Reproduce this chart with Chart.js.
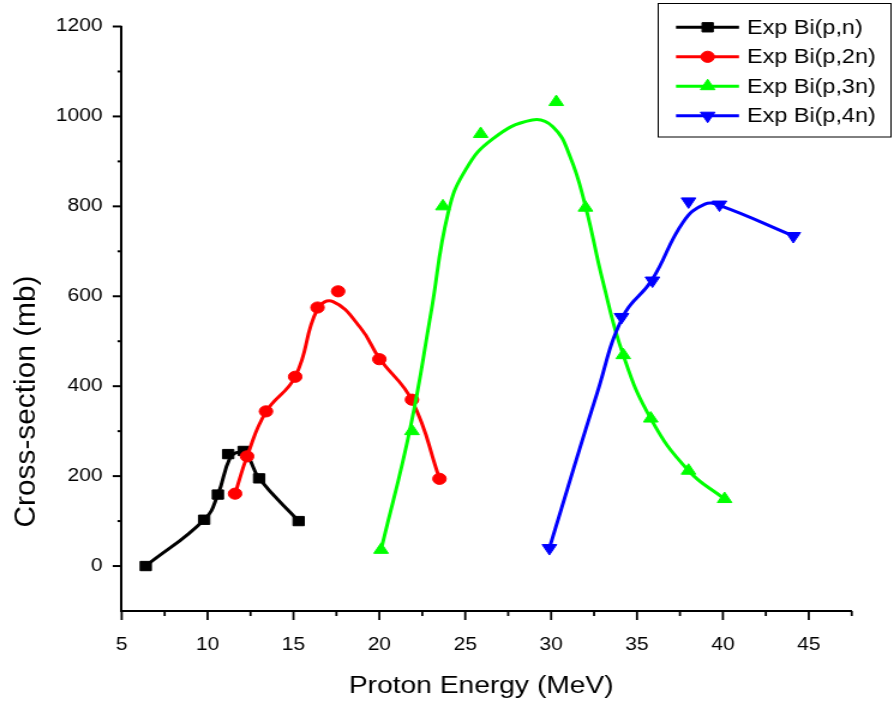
<!DOCTYPE html>
<html>
<head>
<meta charset="utf-8">
<script src="https://cdn.jsdelivr.net/npm/chart.js@4.4.1/dist/chart.umd.min.js"></script>
<style>
  html, body { margin: 0; padding: 0; background: #fff; overflow: hidden; }
  /* the reference is stretched horizontally, so draw narrow and widen */
  #wrap { width: 744px; height: 702px; transform: scaleX(1.2); transform-origin: 0 0; }
</style>
</head>
<body>
<div id="wrap"><canvas id="chart"></canvas></div>
<script>
// ---- data ----
const seriesLabels = ['Exp Bi(p,n)', 'Exp Bi(p,2n)', 'Exp Bi(p,3n)', 'Exp Bi(p,4n)'];

// measured points (markers)
const energyN  = [6.4, 9.8, 10.6, 11.2, 12.1, 13.0, 15.3];
const sigmaN   = [0, 103, 159, 249, 256, 195, 100];
const energy2N = [11.6, 12.3, 13.4, 15.1, 16.4, 17.6, 20.0, 21.9, 23.5];
const sigma2N  = [161, 244, 344, 421, 575, 611, 460, 370, 194];
const energy3N = [20.1, 21.9, 23.7, 25.9, 30.3, 32.0, 34.2, 35.8, 38.0, 40.1];
const sigma3N  = [36, 300, 800, 961, 1032, 797, 469, 328, 212, 149];
const energy4N = [29.9, 34.1, 35.9, 38.0, 39.8, 44.1];
const sigma4N  = [40, 554, 635, 811, 804, 734];

// smoothed curves
const fitEnergyN  = [6.4, 9.8, 10.6, 11.3, 11.8, 12.3, 13.0, 15.3];
const fitSigmaN   = [0, 103, 159, 240, 253, 246, 195, 100];
const fitEnergy2N = [11.6, 12.3, 13.4, 15.1, 16.4, 17.3, 18.9, 20.0, 21.9, 23.5];
const fitSigma2N  = [161, 244, 343, 421, 572, 588, 530, 462, 368, 195];
const fitEnergy3N = [20.1, 21.8, 23.0, 24.0, 25.0, 26.6, 28.9, 30.1, 31.1, 32.0, 33.0, 34.2, 35.8, 38.0, 40.1];
const fitSigma3N  = [36, 307, 562, 785, 880, 950, 992, 977, 911, 800, 635, 469, 328, 212, 149];
const fitEnergy4N = [29.9, 32.65, 34.2, 35.85, 37.7, 38.95, 39.8, 44.1];
const fitSigma4N  = [40, 381, 556, 635, 766, 805, 802, 734];

const xTickValues = [5, 10, 15, 20, 25, 30, 35, 40, 45];
const yTickValues = [0, 200, 400, 600, 800, 1000, 1200];
const xTitle = 'Proton Energy (MeV)';
const yTitle = 'Cross-section (mb)';

// ---- styles ----
const FONT = '"Liberation Sans", Arial, sans-serif';
const styles = [
    { color: '#000000', pointStyle: 'rect',     radius: 6.6, rotation: 0 },
    { color: '#ff0000', pointStyle: 'circle',   radius: 5.6, rotation: 0 },
    { color: '#00ff00', pointStyle: 'triangle', radius: 7,   rotation: 0 },
    { color: '#0000ff', pointStyle: 'triangle', radius: 7,   rotation: 180 }
];
const marks = [[energyN, sigmaN], [energy2N, sigma2N], [energy3N, sigma3N], [energy4N, sigma4N]];
const fits = [[fitEnergyN, fitSigmaN], [fitEnergy2N, fitSigma2N], [fitEnergy3N, fitSigma3N], [fitEnergy4N, fitSigma4N]];

const toPoints = (xs, ys) => xs.map((x, i) => ({ x: x, y: ys[i] }));

const datasets = [];
seriesLabels.forEach((label, i) => {
    const s = styles[i];
    datasets.push({
        label: label,
        data: toPoints(marks[i][0], marks[i][1]),
        showLine: false,
        pointStyle: s.pointStyle,
        pointRadius: s.radius,
        pointRotation: s.rotation,
        pointBackgroundColor: s.color,
        pointBorderColor: s.color,
        pointBorderWidth: 1,
        order: 2 * (3 - i)
    });
    datasets.push({
        label: label + ' fit',
        data: toPoints(fits[i][0], fits[i][1]),
        showLine: true,
        borderColor: s.color,
        borderWidth: 3,
        pointRadius: 0,
        pointHitRadius: 0,
        tension: 0.45,
        order: 2 * (3 - i) + 1
    });
});

// ---- ticks, axis titles and legend box ----
const overlay = {
    id: 'overlay',
    afterDraw(chart) {
        const { ctx, scales: { x, y } } = chart;
        ctx.save();
        ctx.strokeStyle = '#000';
        ctx.fillStyle = '#000';

        // x ticks, major + minor
        ctx.lineWidth = 1.8;
        for (let v = x.min; v <= x.max + 1e-9; v += 2.5) {
            const px = x.getPixelForValue(v);
            const len = v % 5 === 0 ? 9 : 5;
            ctx.beginPath(); ctx.moveTo(px, y.bottom); ctx.lineTo(px, y.bottom + len); ctx.stroke();
        }
        // y ticks, major + minor
        ctx.lineWidth = 2;
        for (let v = 0; v <= y.max; v += 100) {
            const py = y.getPixelForValue(v);
            const len = v % 200 === 0 ? 7.5 : 3.5;
            ctx.beginPath(); ctx.moveTo(x.left, py); ctx.lineTo(x.left - len, py); ctx.stroke();
        }

        // axis titles
        ctx.textAlign = 'center';
        ctx.textBaseline = 'alphabetic';
        ctx.font = '23.5px ' + FONT;
        ctx.fillText(xTitle, 401, 693);
        ctx.save();
        ctx.translate(29.2, 401.5);
        ctx.rotate(-Math.PI / 2);
        ctx.scale(1.28, 1);
        ctx.font = '23.3px ' + FONT;
        ctx.fillText(yTitle, 0, 0);
        ctx.restore();

        // legend
        ctx.lineWidth = 1;
        ctx.strokeRect(548.5, 3.5, 194, 133.5);
        const rows = [27.3, 56.8, 86.2, 115.7];
        ctx.font = '19.5px ' + FONT;
        ctx.textAlign = 'left';
        ctx.textBaseline = 'middle';
        seriesLabels.forEach((label, i) => {
            const s = styles[i];
            const ry = rows[i];
            ctx.strokeStyle = s.color;
            ctx.fillStyle = s.color;
            ctx.lineWidth = 3;
            ctx.beginPath(); ctx.moveTo(563.3, ry); ctx.lineTo(615.8, ry); ctx.stroke();
            ctx.lineWidth = 1;
            Chart.helpers.drawPoint(ctx, { pointStyle: s.pointStyle, rotation: s.rotation, radius: s.radius, borderWidth: 1 }, 589.7, ry);
            ctx.fillStyle = '#000';
            ctx.fillText(label, 622.5, ry + 1);
        });
        ctx.restore();
    }
};

Chart.defaults.font.family = FONT;
Chart.defaults.color = '#000';

new Chart(document.getElementById('chart').getContext('2d'), {
    type: 'scatter',
    data: { datasets: datasets },
    options: {
        responsive: true,
        maintainAspectRatio: false,
        animation: false,
        layout: { padding: { top: 22.3, right: 34.25, left: 0, bottom: 0 } },
        plugins: { legend: { display: false }, tooltip: { enabled: false } },
        scales: {
            x: {
                type: 'linear', min: 5, max: 47.5,
                afterBuildTicks: (axis) => { axis.ticks = xTickValues.map(v => ({ value: v })); },
                afterFit: (axis) => { axis.height = 91; },
                grid: { display: false, drawTicks: false },
                border: { display: true, color: '#000', width: 2 },
                ticks: { padding: 24, autoSkip: false, maxRotation: 0, font: { size: 17.5 }, callback: (v) => String(v) }
            },
            y: {
                type: 'linear', min: -100, max: 1200,
                afterBuildTicks: (axis) => { axis.ticks = yTickValues.map(v => ({ value: v })); },
                afterFit: (axis) => { axis.width = 101.4; },
                grid: { display: false, drawTicks: false },
                border: { display: true, color: '#000', width: 2 },
                ticks: { padding: 16, font: { size: 17.5 }, callback: (v) => String(v) }
            }
        }
    },
    plugins: [overlay]
});
</script>
</body>
</html>
